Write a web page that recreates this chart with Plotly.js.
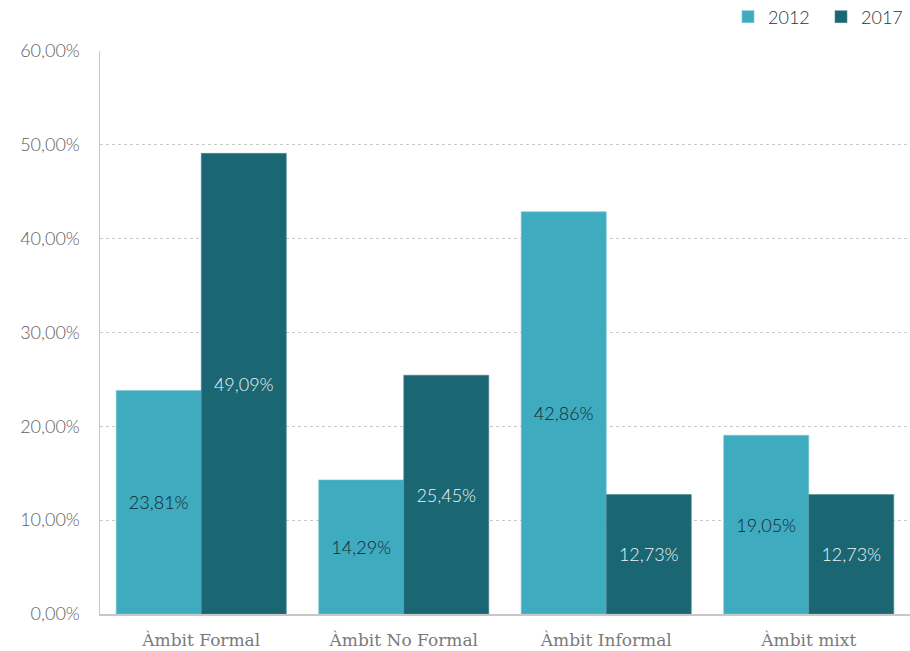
<!DOCTYPE html>
<html><head><meta charset="utf-8">
<script src="https://cdn.plot.ly/plotly-3.0.1.min.js"></script>
<style>html,body{margin:0;padding:0;background:#fff;}#chart{width:910px;height:651px;}</style>
</head><body><div id="chart"></div>
<script>
const categories = ["Àmbit Formal", "Àmbit No Formal", "Àmbit Informal", "Àmbit mixt"];
const values2012 = [23.81, 14.29, 42.86, 19.05];
const values2017 = [49.09, 25.45, 12.73, 12.73];
const seriesNames = ["2012", "2017"];
const tickVals = [0, 10, 20, 30, 40, 50, 60];
const tickText = ["0,00%", "10,00%", "20,00%", "30,00%", "40,00%", "50,00%", "60,00%"];

const traces = [
  {type:'bar', name:seriesNames[0], x:categories, y:values2012,
   marker:{color:'#3eabbf', line:{color:'#7cc6d3', width:0.6}},
   texttemplate:'%{y:.2f}%', textposition:'inside', insidetextanchor:'middle',
   textfont:{family:'Lato', size:18, weight:300, color:'#15262d'}, hoverinfo:'none'},
  {type:'bar', name:seriesNames[1], x:categories, y:values2017,
   marker:{color:'#1b6673', line:{color:'#4f8a94', width:0.6}},
   texttemplate:'%{y:.2f}%', textposition:'inside', insidetextanchor:'middle',
   textfont:{family:'Lato', size:18, weight:300, color:'#eef4f5'}, hoverinfo:'none'}
];

const layout = {
  width:910, height:651,
  margin:{l:100, r:0, t:51, b:37},
  paper_bgcolor:'#fff', plot_bgcolor:'#fff',
  separators:',.',
  barmode:'group', bargap:0.16, bargroupgap:0,
  font:{family:'Lato', color:'#666'},
  showlegend:true,
  legend:{orientation:'h', xref:'container', yref:'container', x:0.80, xanchor:'left',
          y:0.974, yanchor:'middle',
          font:{family:'Lato', size:18, weight:300, color:'#333'}, itemwidth:30,
          entrywidth:48, traceorder:'normal'},
  xaxis:{tickfont:{family:'DejaVu Serif', size:17, color:'#7a7a7a'}, ticklabelstandoff:10,
         showline:true, linecolor:'#c8c8c8', linewidth:1.5, ticks:'', showgrid:false, fixedrange:true},
  yaxis:{range:[0,60], tickmode:'array', tickvals:tickVals, ticktext:tickText,
         tickfont:{family:'Lato', size:18, weight:300, color:'#606060'}, ticklabelstandoff:15,
         showgrid:true, gridcolor:'#c8c8c8', griddash:'dot', gridwidth:1,
         showline:true, linecolor:'#c8c8c8', linewidth:1.5, ticks:'', ticklen:0,
         zeroline:false, fixedrange:true}
};
Plotly.newPlot('chart', traces, layout, {displayModeBar:false, staticPlot:true});
</script></body></html>
